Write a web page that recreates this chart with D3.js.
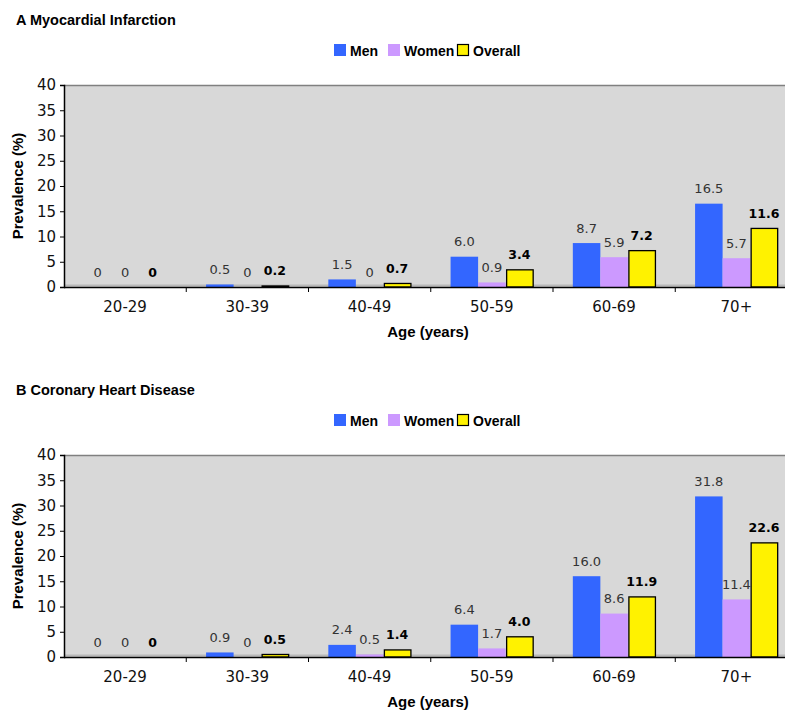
<!DOCTYPE html>
<html>
<head>
<meta charset="utf-8">
<script src="https://cdn.jsdelivr.net/npm/d3@7"></script>
<style>
  html, body { margin: 0; padding: 0; background: #fff; }
  svg { display: block; }
</style>
</head>
<body>
<svg id="chart" width="785" height="710"></svg>
<script>
const categories = ["20-29", "30-39", "40-49", "50-59", "60-69", "70+"];
const seriesNames = ["Men", "Women", "Overall"];
const yTicks = [0, 5, 10, 15, 20, 25, 30, 35, 40];

const miMen = [0, 0.5, 1.5, 6.0, 8.7, 16.5];
const miWomen = [0, 0, 0, 0.9, 5.9, 5.7];
const miOverall = [0, 0.2, 0.7, 3.4, 7.2, 11.6];

const chdMen = [0, 0.9, 2.4, 6.4, 16.0, 31.8];
const chdWomen = [0, 0, 0.5, 1.7, 8.6, 11.4];
const chdOverall = [0, 0.5, 1.4, 4.0, 11.9, 22.6];

const panels = [
  { title: "A Myocardial Infarction", values: [miMen, miWomen, miOverall] },
  { title: "B Coronary Heart Disease", values: [chdMen, chdWomen, chdOverall] }
];

const colors = { Men: "#3366ff", Women: "#cc99ff", Overall: "#fff200" };
const svg = d3.select("#chart");

const pLeft = 64, pRight = 797.5, pTop = 85, pBottom = 287, clipRight = 785;
const x0 = d3.scaleBand().domain(categories).range([pLeft, pRight]).paddingInner(0).paddingOuter(0);
const x1 = d3.scaleBand().domain(seriesNames).range([0, x0.bandwidth()]).paddingInner(0).paddingOuter(0.72);
const y = d3.scaleLinear().domain([0, 40]).range([pBottom, pTop]);

const fmt = v => v === 0 ? "0" : v.toFixed(1);

panels.forEach((p, pi) => {
  const g = svg.append("g").attr("transform", `translate(0,${pi * 370})`);

  g.append("text").attr("x", 16).attr("y", 25)
    .attr("font-family", "Liberation Sans, Arial, sans-serif")
    .attr("font-weight", "bold").attr("font-size", 14.5).attr("fill", "#000")
    .text(p.title);

  const legX = [334, 388, 457];
  seriesNames.forEach((s, i) => {
    const lg = g.append("g").attr("transform", `translate(${legX[i]},44)`);
    const isO = s === "Overall";
    lg.append("rect").attr("x", isO ? 0.5 : 0).attr("y", isO ? 0.5 : 0)
      .attr("width", isO ? 11 : 12).attr("height", isO ? 11 : 12)
      .attr("fill", colors[s]).attr("stroke", isO ? "#000" : "none").attr("stroke-width", 1.2);
    lg.append("text").attr("x", 16).attr("y", 11.5)
      .attr("font-family", "Liberation Sans, Arial, sans-serif")
      .attr("font-weight", "bold").attr("font-size", 14).attr("fill", "#000")
      .text(s);
  });

  g.append("rect").attr("x", pLeft).attr("y", pTop).attr("width", clipRight - pLeft).attr("height", pBottom - pTop)
    .attr("fill", "#d8d8d8");
  g.append("line").attr("x1", pLeft).attr("x2", clipRight).attr("y1", pTop + 0.5).attr("y2", pTop + 0.5)
    .attr("stroke", "#808080").attr("stroke-width", 1.5);
  g.append("line").attr("x1", pLeft).attr("x2", clipRight).attr("y1", pBottom - 1.5).attr("y2", pBottom - 1.5)
    .attr("stroke", "#b8b8b8").attr("stroke-width", 2);

  seriesNames.forEach((s, si) => {
    const vals = p.values[si];
    const isO = s === "Overall";
    g.append("g").selectAll("rect").data(categories).join("rect")
      .attr("x", (c) => x0(c) + x1(s) + (isO ? 1 : 0))
      .attr("y", (c, i) => y(vals[i]))
      .attr("width", x1.bandwidth() - (isO ? 1 : 0))
      .attr("height", (c, i) => y(0) - y(vals[i]))
      .attr("fill", colors[s])
      .attr("stroke", isO ? "#000" : "none")
      .attr("stroke-width", 1.3);
    g.append("g").selectAll("text").data(categories).join("text")
      .attr("x", (c) => x0(c) + x1(s) + x1.bandwidth() / 2)
      .attr("y", (c, i) => y(vals[i]) - 10.5)
      .attr("text-anchor", "middle")
      .attr("font-family", "DejaVu Sans, Verdana, sans-serif")
      .attr("font-size", isO ? 12.5 : 13)
      .attr("font-weight", isO ? "bold" : "normal")
      .attr("fill", isO ? "#000" : "#333")
      .text((c, i) => fmt(vals[i]));
  });

  const ya = g.append("g").attr("transform", `translate(${pLeft},0)`)
    .call(d3.axisLeft(y).tickValues(yTicks).tickSize(4).tickPadding(4));
  ya.select(".domain").attr("stroke", "#000").attr("stroke-width", 1.5);
  ya.selectAll(".tick line").attr("stroke", "#000");
  ya.selectAll("text").attr("font-family", "DejaVu Sans, Verdana, sans-serif")
    .attr("font-size", 15).attr("fill", "#111");

  const xa = g.append("g").attr("transform", `translate(0,${pBottom})`)
    .call(d3.axisBottom(x0).tickSize(0).tickPadding(14));
  xa.select(".domain").remove();
  xa.selectAll("text").attr("font-family", "DejaVu Sans, Verdana, sans-serif")
    .attr("font-size", 15).attr("fill", "#111").attr("dy", "0.71em");
  g.append("line").attr("x1", pLeft).attr("x2", clipRight).attr("y1", pBottom + 0.5).attr("y2", pBottom + 0.5)
    .attr("stroke", "#000").attr("stroke-width", 1.5);
  g.append("g").selectAll("line").data(categories.slice(1)).join("line")
    .attr("x1", c => x0(c)).attr("x2", c => x0(c))
    .attr("y1", pBottom).attr("y2", pBottom + 5).attr("stroke", "#000").attr("stroke-width", 1);

  g.append("text").attr("x", 428).attr("y", 337).attr("text-anchor", "middle")
    .attr("font-family", "Liberation Sans, Arial, sans-serif")
    .attr("font-weight", "bold").attr("font-size", 15).attr("fill", "#000")
    .text("Age (years)");
  g.append("text").attr("transform", `translate(23,${(pTop + pBottom) / 2}) rotate(-90)`)
    .attr("text-anchor", "middle")
    .attr("font-family", "Liberation Sans, Arial, sans-serif")
    .attr("font-weight", "bold").attr("font-size", 15).attr("fill", "#000")
    .text("Prevalence (%)");
});
</script>
</body>
</html>
